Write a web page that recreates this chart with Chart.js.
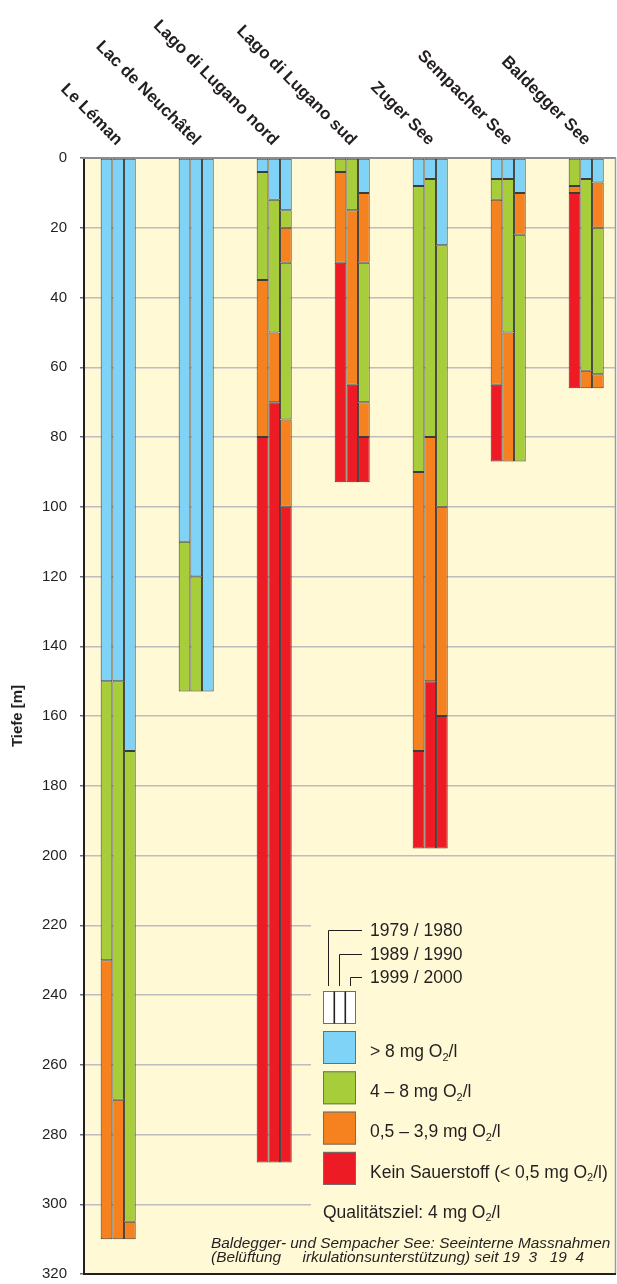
<!DOCTYPE html>
<html>
<head>
<meta charset="utf-8">
<script src="https://cdn.jsdelivr.net/npm/chart.js@4.4.1/dist/chart.umd.min.js"></script>
<style>
  html, body { margin: 0; padding: 0; background: #ffffff; }
  #wrap { position: relative; width: 617px; height: 1284px; }
</style>
</head>
<body>
<div id="wrap"><canvas id="chart"></canvas></div>
<script>
// Lakes shown along the top, one group of three columns each
const lakes = ['Le Léman', 'Lac de Neuchâtel', 'Lago di Lugano nord', 'Lago di Lugano sud',
               'Zuger See', 'Sempacher See', 'Baldegger See'];
// Sampling periods, one column per period inside each group
const years = ['1979 / 1980', '1989 / 1990', '1999 / 2000'];
// Oxygen classes (legend order)
const classLabels = ['> 8 mg O₂/l', '4 – 8 mg O₂/l', '0,5 – 3,9 mg O₂/l', 'Kein Sauerstoff (< 0,5 mg O₂/l)'];
// Depth axis ticks [m]
const depthTicks = [0, 20, 40, 60, 80, 100, 120, 140, 160, 180, 200, 220, 240, 260, 280, 300, 320];

// Oxygen zones from the surface down, per lake: [class, lower boundary in m]
// class 0: > 8 mg/l, 1: 4–8 mg/l, 2: 0.5–3.9 mg/l, 3: no oxygen
const zones1980 = [
  [[0, 150], [1, 230], [2, 310]],
  [[0, 110], [1, 153]],
  [[0, 4], [1, 35], [2, 80], [3, 288]],
  [[1, 4], [2, 30], [3, 93]],
  [[0, 8], [1, 90], [2, 170], [3, 198]],
  [[0, 6], [1, 12], [2, 65], [3, 87]],
  [[1, 8], [2, 10], [3, 66]]
];
const zones1990 = [
  [[0, 150], [1, 270], [2, 310]],
  [[0, 120], [1, 153]],
  [[0, 12], [1, 50], [2, 70], [3, 288]],
  [[1, 15], [2, 65], [3, 93]],
  [[0, 6], [1, 80], [2, 150], [3, 198]],
  [[0, 6], [1, 50], [2, 87]],
  [[0, 6], [1, 61], [2, 66]]
];
const zones2000 = [
  [[0, 170], [1, 305], [2, 310]],
  [[0, 153]],
  [[0, 15], [1, 20], [2, 30], [1, 75], [2, 100], [3, 288]],
  [[0, 10], [2, 30], [1, 70], [2, 80], [3, 93]],
  [[0, 25], [1, 100], [2, 160], [3, 198]],
  [[0, 10], [2, 22], [1, 87]],
  [[0, 7], [2, 20], [1, 62], [2, 66]]
];
const zonesByYear = [zones1980, zones1990, zones2000];

// Styling
const classColors = ['#7ed3f6', '#a8cd3a', '#f5821f', '#ed1c24'];
const plotBg = '#fff9d6';
const ink = '#231f20';
const FONT = '"Liberation Sans", Arial, Helvetica, sans-serif';

// One floating-bar dataset per zone layer and period; the period is the bar's stack
const datasets = [];
years.forEach((year, y) => {
  const zones = zonesByYear[y];
  const layers = Math.max(...zones.map(z => z.length));
  for (let s = 0; s < layers; s++) {
    const points = [];
    const colors = [];
    zones.forEach((profile, i) => {
      if (s < profile.length) {
        const top = s === 0 ? 0 : profile[s - 1][1];
        points.push({ x: i, y: [top, profile[s][1]] });
        colors.push(classColors[profile[s][0]]);
      }
    });
    datasets.push({
      label: year,
      stack: year,
      data: points,
      backgroundColor: colors,
      borderColor: '#3c3c3c',
      borderWidth: 1,
      borderSkipped: false,
      categoryPercentage: 0.449,
      barPercentage: 1
    });
  }
});

// Draws text, rendering "₂" as a lowered small 2
function drawRich(ctx, text, x, y, size, style) {
  const base = `${style} ${size}px ${FONT}`;
  const sub = `${style} ${Math.round(size * 0.6)}px ${FONT}`;
  let cx = x;
  text.split(/(₂)/).forEach(part => {
    if (!part) return;
    if (part === '₂') {
      ctx.font = sub;
      ctx.fillText('2', cx, y + size * 0.22);
      cx += ctx.measureText('2').width;
    } else {
      ctx.font = base;
      ctx.fillText(part, cx, y);
      cx += ctx.measureText(part).width;
    }
  });
}

const decor = {
  id: 'decor',
  beforeDraw(chart) {
    const { ctx, chartArea: a } = chart;
    ctx.save();
    ctx.fillStyle = plotBg;
    ctx.fillRect(a.left, a.top, a.right - a.left, a.bottom - a.top);
    ctx.restore();
  },
  beforeDatasetsDraw(chart) {
    // legend panel sits on the plot and hides the grid behind it
    const { ctx, chartArea: a } = chart;
    ctx.save();
    ctx.fillStyle = plotBg;
    ctx.fillRect(311, 905, a.right - 311 - 1, a.bottom - 905 - 1);
    ctx.restore();
  },
  afterDatasetsDraw(chart) {
    const { ctx, chartArea: a } = chart;
    ctx.save();
    ctx.lineCap = 'butt';
    ctx.strokeStyle = '#8c8c8c';
    ctx.lineWidth = 2;
    ctx.beginPath(); ctx.moveTo(a.left - 2, a.top); ctx.lineTo(a.right, a.top); ctx.stroke();
    ctx.strokeStyle = '#9b9b9b';
    ctx.lineWidth = 1.5;
    ctx.beginPath(); ctx.moveTo(a.right - 0.5, a.top); ctx.lineTo(a.right - 0.5, a.bottom); ctx.stroke();
    ctx.strokeStyle = ink;
    ctx.lineWidth = 2;
    ctx.beginPath(); ctx.moveTo(a.left - 1, a.bottom); ctx.lineTo(a.right, a.bottom); ctx.stroke();
    ctx.restore();
  },
  afterDraw(chart) {
    const { ctx } = chart;
    const xs = chart.scales.x;
    ctx.save();
    ctx.fillStyle = ink;

    // lake names, slanted, ending just above each group
    ctx.font = `bold 17px ${FONT}`;
    ctx.textAlign = 'right';
    ctx.textBaseline = 'alphabetic';
    lakes.forEach((name, i) => {
      ctx.save();
      ctx.translate(xs.getPixelForValue(i) - 2, 146);
      ctx.rotate(Math.PI / 4);
      ctx.fillText(name, 0, 0);
      ctx.restore();
    });

    ctx.textAlign = 'left';
    // period key
    ctx.font = `17.5px ${FONT}`;
    const yearBase = [936, 960, 983];
    const yearLeg = [328.5, 339.5, 350.5];
    years.forEach((yr, k) => {
      ctx.fillText(yr, 370, yearBase[k]);
      ctx.strokeStyle = ink;
      ctx.lineWidth = 1;
      ctx.beginPath();
      ctx.moveTo(362, yearBase[k] - 5.5);
      ctx.lineTo(yearLeg[k], yearBase[k] - 5.5);
      ctx.lineTo(yearLeg[k], 986);
      ctx.stroke();
    });
    ctx.fillStyle = '#ffffff';
    ctx.fillRect(323, 991, 33, 33);
    ctx.strokeStyle = '#6d6e71';
    ctx.lineWidth = 1;
    ctx.strokeRect(323.5, 991.5, 32, 32);
    ctx.strokeStyle = ink;
    ctx.lineWidth = 1.6;
    [334.3, 345.3].forEach(xx => {
      ctx.beginPath(); ctx.moveTo(xx, 991.5); ctx.lineTo(xx, 1023.5); ctx.stroke();
    });

    // oxygen class key
    classLabels.forEach((lab, k) => {
      const top = 1031 + k * 40.3;
      ctx.fillStyle = classColors[k];
      ctx.fillRect(323, top, 33, 33);
      ctx.strokeStyle = '#6d6e71';
      ctx.lineWidth = 1;
      ctx.strokeRect(323.5, top + 0.5, 32, 32);
      ctx.fillStyle = ink;
      drawRich(ctx, lab, 370, 1057 + k * 40.2, 17.5, 'normal');
    });
    drawRich(ctx, 'Qualitätsziel: 4 mg O₂/l', 323, 1217.5, 17.5, 'normal');

    ctx.font = `italic 15.4px ${FONT}`;
    ctx.fillText('Baldegger- und Sempacher See: Seeinterne Massnahmen', 211, 1248);
    ctx.fillText('(Belüftung     irkulationsunterstützung) seit 19  3   19  4', 211, 1262);
    ctx.restore();
  }
};

new Chart(document.getElementById('chart'), {
  type: 'bar',
  data: { datasets },
  options: {
    responsive: true,
    maintainAspectRatio: false,
    animation: false,
    layout: { padding: { top: 158, right: 1, bottom: 10, left: 0 } },
    plugins: { legend: { display: false }, tooltip: { enabled: false } },
    scales: {
      x: {
        type: 'linear',
        display: false,
        offset: false,
        min: -0.4385,
        max: 6.382,
        ticks: { stepSize: 1, includeBounds: false }
      },
      y: {
        type: 'linear',
        reverse: true,
        stacked: false,
        min: depthTicks[0],
        max: depthTicks[depthTicks.length - 1],
        afterBuildTicks: s => { s.ticks = depthTicks.map(v => ({ value: v })); },
        afterFit: s => { s.width = 84; s.paddingTop = 0; s.paddingBottom = 0; },
        ticks: { color: ink, font: { family: FONT, size: 15 }, padding: 13 },
        grid: { color: '#bdbdbd', lineWidth: 1.5, tickColor: '#6d6e71', tickLength: 4 },
        border: { color: ink, width: 2 },
        title: {
          display: true, text: 'Tiefe [m]', color: ink,
          font: { family: FONT, size: 15, weight: 'bold' },
          padding: { top: 9, bottom: 0 }
        }
      }
    }
  },
  plugins: [decor]
});
</script>
</body>
</html>
